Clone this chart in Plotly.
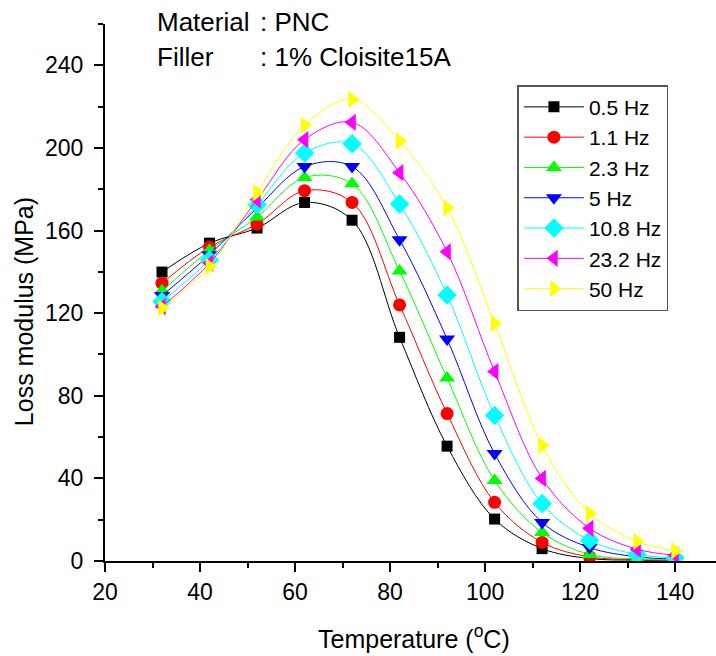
import plotly.graph_objects as go

temps = [32, 42, 52, 62, 72, 82, 92, 102, 112, 122, 132, 140]

series_names = ["0.5 Hz", "1.1 Hz", "2.3 Hz", "5 Hz", "10.8 Hz", "23.2 Hz", "50 Hz"]

hz_0_5 = [139.9, 153.9, 161.2, 173.6, 165.0, 108.3, 55.6, 20.3, 6.0, 1.2, 0.4, 0.2]
hz_1_1 = [134.5, 152.0, 163.1, 179.3, 173.6, 124.0, 71.4, 28.4, 9.0, 2.0, 0.6, 0.3]
hz_2_3 = [130.8, 150.4, 166.5, 185.7, 182.6, 140.4, 88.6, 39.0, 13.8, 3.2, 1.0, 0.5]
hz_5 = [128.5, 148.3, 170.9, 191.0, 191.0, 155.6, 107.5, 52.0, 18.7, 6.5, 2.0, 1.0]
hz_10_8 = [125.6, 145.8, 172.5, 197.5, 202.0, 172.8, 128.8, 70.4, 27.8, 10.0, 3.2, 1.5]
hz_23_2 = [123.2, 144.2, 174.9, 204.0, 212.4, 188.0, 149.7, 91.7, 40.0, 15.8, 5.7, 2.8]
hz_50 = [122.5, 142.6, 178.4, 211.0, 223.5, 203.4, 171.0, 115.0, 56.0, 23.0, 9.5, 5.0]

all_values = [hz_0_5, hz_1_1, hz_2_3, hz_5, hz_10_8, hz_23_2, hz_50]

colors = ["#000000", "#FF0000", "#00FF00", "#0000FF", "#00FFFF", "#FF00FF", "#FFFF00"]
symbols = ["square", "circle", "triangle-up", "triangle-down", "diamond", "triangle-left", "triangle-right"]
sizes = [11, 13, 14, 14, 15, 15, 15]

FONT = "Liberation Sans, Arial, sans-serif"

fig = go.Figure()
for name, vals, col, sym, sz in zip(series_names, all_values, colors, symbols, sizes):
    fig.add_trace(go.Scatter(
        x=temps, y=vals, name=name, mode="lines+markers",
        line=dict(color=col, width=1, shape="spline", smoothing=1.0),
        marker=dict(symbol=sym, size=sz, color=col, line=dict(width=0)),
    ))

axis_common = dict(
    showline=True, linecolor="black", linewidth=2,
    ticks="outside", ticklen=9, tickwidth=2, tickcolor="black",
    showgrid=False, zeroline=False,
    tickfont=dict(family=FONT, size=23, color="black"),
)

fig.update_layout(
    width=716, height=656,
    margin=dict(l=105, r=0, t=24, b=95),
    paper_bgcolor="white", plot_bgcolor="white",
    font=dict(family=FONT, color="black"),
    xaxis=dict(range=[20, 148.6], tick0=20, dtick=20,
               minor=dict(ticks="outside", ticklen=5, tickwidth=2, tickcolor="black", dtick=10, showgrid=False),
               **axis_common),
    yaxis=dict(range=[0, 260], tick0=0, dtick=40, ticklabelstandoff=6,
               minor=dict(ticks="outside", ticklen=5, tickwidth=2, tickcolor="black", dtick=20, showgrid=False),
               **axis_common),
    legend=dict(
        x=0.675, y=0.886, xanchor="left", yanchor="top",
        bgcolor="white", bordercolor="#555555", borderwidth=1.5,
        font=dict(family=FONT, size=21, color="black"),
        itemwidth=60, tracegroupgap=0,
    ),
    showlegend=True,
)

annots = [
    dict(text="Material", x=0.0818, y=1.0037),
    dict(text=": PNC", x=0.2504, y=1.0037),
    dict(text="Filler", x=0.0818, y=0.9385),
    dict(text=": 1% Cloisite15A", x=0.2504, y=0.9385),
]
for a in annots:
    fig.add_annotation(text=a["text"], x=a["x"], y=a["y"], xref="paper", yref="paper",
                       xanchor="left", yanchor="middle", showarrow=False,
                       font=dict(family=FONT, size=26, color="black"))

fig.add_annotation(text="Temperature (<sup>o</sup>C)", x=0.5057, y=-0.1415, xref="paper", yref="paper",
                   xanchor="center", yanchor="middle", showarrow=False,
                   font=dict(family=FONT, size=25, color="black"))
fig.add_annotation(text="Loss modulus (MPa)", x=-0.1323, y=0.4637, xref="paper", yref="paper",
                   xanchor="center", yanchor="middle", showarrow=False, textangle=-90,
                   font=dict(family=FONT, size=25, color="black"))

fig.write_html("out.html", config={"displayModeBar": False},
               post_script="document.body.style.margin='0';document.body.style.overflow='hidden';")
